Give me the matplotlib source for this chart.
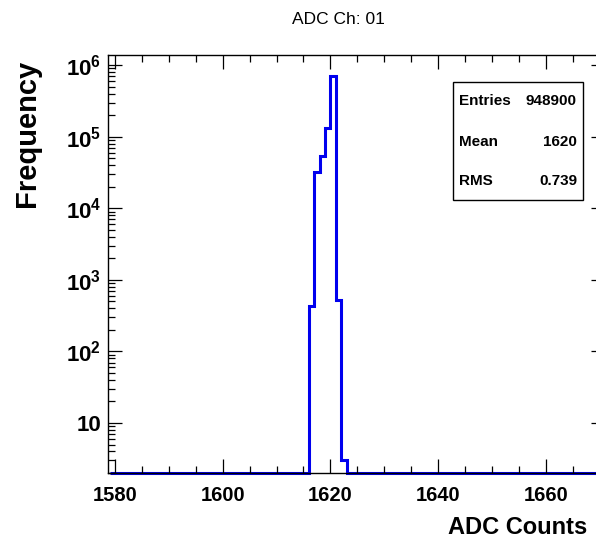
import numpy as np
import matplotlib
matplotlib.use('Agg')
import matplotlib.pyplot as plt
from matplotlib.ticker import MultipleLocator, LogLocator, FixedLocator, FixedFormatter, NullFormatter

plt.rcParams['font.family'] = ['Liberation Sans', 'DejaVu Sans']
plt.rcParams['mathtext.fontset'] = 'custom'
plt.rcParams['mathtext.rm'] = 'Liberation Sans:bold'
plt.rcParams['mathtext.it'] = 'Liberation Sans:bold'
plt.rcParams['mathtext.bf'] = 'Liberation Sans:bold'

# histogram data (ADC channel 01), one-count bins
first_bin = 1616
counts = [430, 31600, 53000, 133000, 700000, 520, 3]
x_range = (1578.7, 1671)
y_range = (2.0, 1.38e6)

stats_names = ['Entries', 'Mean', 'RMS']
stats_values = ['948900', '1620', '0.739']

decades = [10, 1e2, 1e3, 1e4, 1e5, 1e6]
decade_labels = ['10', r'$10^{2}$', r'$10^{3}$', r'$10^{4}$', r'$10^{5}$', r'$10^{6}$']

edges = np.arange(1579, 1672)
values = np.zeros(len(edges) - 1)
start = first_bin - edges[0]
values[start:start + len(counts)] = counts
# empty bins sit on the lower edge of the log axis
values = np.maximum(values, y_range[0])

fig = plt.figure(figsize=(5.96, 5.40), dpi=100)
ax = fig.add_axes([108 / 596, 0.124, (605 - 108) / 596, 0.898 - 0.124])

ax.stairs(values, edges, baseline=None, color='#0000ee', lw=2.2, clip_on=False)

ax.set_yscale('log')
ax.set_xlim(*x_range)
ax.set_ylim(*y_range)

ax.xaxis.set_major_locator(MultipleLocator(20))
ax.xaxis.set_minor_locator(MultipleLocator(5))
ax.yaxis.set_major_locator(FixedLocator(decades))
ax.yaxis.set_major_formatter(FixedFormatter(decade_labels))
ax.yaxis.set_minor_locator(LogLocator(base=10, subs=np.arange(2, 10)))
ax.yaxis.set_minor_formatter(NullFormatter())

ax.tick_params(which='both', direction='in', top=True, right=True, width=0.9)
ax.tick_params(which='major', length=10)
ax.tick_params(which='minor', length=5)
ax.tick_params(axis='x', labelsize=14.5, pad=9)
ax.tick_params(axis='y', labelsize=16, pad=5)
for lab in ax.get_xticklabels() + ax.get_yticklabels():
    lab.set_fontweight('bold')
for sp in ax.spines.values():
    sp.set_linewidth(1.0)

fig.text(338 / 596, 1 - 20 / 540, 'ADC Ch: 01', ha='center', va='center', fontsize=12.5)
fig.text(27 / 596, 1 - 60 / 540, 'Frequency', rotation=90, ha='center', va='top',
         fontsize=21, fontweight='bold')
fig.text(587 / 596, 1 - 527 / 540, 'ADC Counts', ha='right', va='center',
         fontsize=17, fontweight='bold')

# stats box
box = plt.Rectangle((453 / 596, 1 - 200 / 540), 130 / 596, 118 / 540, transform=fig.transFigure,
                    facecolor='white', edgecolor='black', lw=1.0)
fig.patches.append(box)
rows_y = [101, 142, 181]
for name, val, yy in zip(stats_names, stats_values, rows_y):
    fig.text(459 / 596, 1 - yy / 540, name, ha='left', va='center', fontsize=11, fontweight='bold')
    fig.text(577 / 596, 1 - yy / 540, val, ha='right', va='center', fontsize=11, fontweight='bold')

fig.savefig('out.png', dpi=100)
